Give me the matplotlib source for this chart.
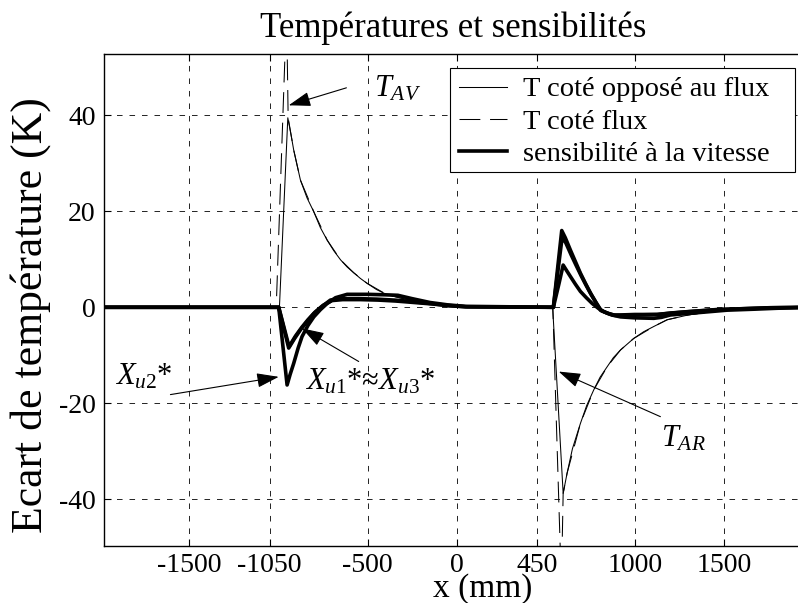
import matplotlib
matplotlib.use("Agg")
import matplotlib.pyplot as plt
from matplotlib.patches import Rectangle

plt.rcParams['font.family'] = ['Liberation Serif', 'DejaVu Serif']
plt.rcParams['mathtext.fontset'] = 'custom'
plt.rcParams['mathtext.rm'] = 'Liberation Serif'
plt.rcParams['mathtext.it'] = 'Liberation Serif:italic'
plt.rcParams['lines.scale_dashes'] = False

# ---- data ----
title = "Températures et sensibilités"
xlabel = "x (mm)"
ylabel = "Ecart de température (K)"
legend_labels = ["T coté opposé au flux", "T coté flux", "sensibilité à la vitesse"]
xticks = [-1500, -1050, -500, 0, 450, 1000, 1500]
yticks = [-40, -20, 0, 20, 40]

# T opposite side of flux (thin solid)
t_opp_x = [-1980, -995, -948, -930, -915, -877, -840, -802, -765, -727, -690, -652, -615, -578,
           -540, -503, -450, -390, -300, -203, -100, 0, 200, 539, 598, 620, 650, 695, 730, 770,
           805, 845, 880, 920, 994, 1050, 1107, 1182, 1300, 1450, 1600, 1980]
t_opp_y = [0, 0, 39.5, 36, 32.8, 26.5, 22.8, 19.9, 16.6, 14, 11.8, 9.9, 8.4, 7.2,
           6.0, 5.0, 3.7, 2.6, 1.8, 1.2, 0.6, 0.2, 0, 0, -38.8, -34.6, -29.5, -24.2, -20.5, -17.2,
           -14.6, -12.4, -10.5, -8.9, -6.5, -5.1, -4.0, -2.6, -1.6, -0.8, -0.3, 0]

# T flux side (thin dashed)
t_flux_x = [-1980, -1013, -955, -946, -930, -915, -877, -802, -727, -652, -578, -503, -390, -300,
            -203, -100, 0, 200, 540, 588, 598, 620, 695, 770, 845, 920, 994, 1107, 1182, 1300,
            1450, 1600, 1980]
t_flux_y = [0, 0, 62, 39.5, 36, 32.8, 26.5, 19.9, 14, 9.9, 7.2, 5.0, 2.6, 1.8,
            1.2, 0.6, 0.2, 0, 0, -58, -38.8, -34.6, -24.2, -17.2, -12.4, -8.9, -6.5, -4.0, -2.6, -1.6,
            -0.8, -0.3, 0]

# speed sensitivities (thick solid)
xu2_x = [-1980, -999, -952, -935, -915, -890, -868, -835, -802, -765, -727, -680, -615, -500,
         -400, -330, -250, -150, -50, 50, 543, 575, 598, 620, 639, 667, 695, 728, 761, 795,
         826, 870, 920, 1000, 1107, 1150, 1200, 1330, 1519, 1668, 1800, 1980]
xu2_y = [0, 0, -16.2, -14, -11.7, -8.5, -6.1, -3.8, -2.0, -0.5, 0.8, 2.0, 2.7, 2.7,
         2.6, 2.5, 1.8, 1.0, 0.5, 0.2, 0, 5.0, 8.8, 7.5, 6.4, 4.8, 3.3, 2.0, 0.8, -0.2,
         -0.9, -1.6, -2.0, -2.2, -2.3, -2.1, -1.6, -1.2, -0.6, -0.4, -0.2, 0]

xu1_x = [-1980, -999, -943, -910, -877, -840, -802, -755, -709, -650, -550, -450, -350, -250,
         -150, -50, 50, 543, 590, 610, 639, 667, 695, 723, 751, 779, 807, 845, 882, 920,
         1000, 1125, 1200, 1300, 1450, 1600, 1750, 1980]
xu1_y = [0, 0, -8.5, -6.5, -4.7, -3.0, -1.3, 0.2, 1.5, 1.8, 1.8, 1.7, 1.5, 1.2,
         0.8, 0.4, 0.1, 0, 16.0, 14.5, 11.9, 9.5, 7.1, 5.0, 3.0, 1.2, -0.6, -1.2, -1.6, -1.6,
         -1.5, -1.5, -1.2, -0.9, -0.5, -0.3, -0.1, 0]

xu3_x = [-1980, -999, -941, -905, -870, -835, -795, -750, -700, -640, -540, -440, -340, -240,
         -140, -40, 60, 543, 592, 612, 642, 670, 700, 728, 756, 784, 812, 850, 890, 930,
         1010, 1130, 1210, 1310, 1460, 1610, 1760, 1980]
xu3_y = [0, 0, -8.2, -6.0, -4.2, -2.6, -1.0, 0.4, 1.4, 1.6, 1.6, 1.5, 1.3, 1.0,
         0.7, 0.3, 0.1, 0, 14.5, 13.5, 11.0, 8.8, 6.5, 4.5, 2.6, 0.9, -0.7, -1.3, -1.7, -1.7,
         -1.6, -1.5, -1.2, -0.9, -0.5, -0.3, -0.1, 0]

# ---- figure ----
W, H = 798, 603
fig = plt.figure(figsize=(W / 100, H / 100), dpi=100)
ax = fig.add_axes([104 / W, 57.3 / H, 705.3 / W, 491.7 / H])
ax.set_xlim(-1980, 1980)
ax.set_ylim(-49.7, 52.8)

l1, = ax.plot(t_opp_x, t_opp_y, color='k', lw=0.75)
l2, = ax.plot(t_flux_x, t_flux_y, color='k', lw=0.75, linestyle=(0, (15, 7)))
l3, = ax.plot(xu1_x, xu1_y, color='k', lw=2.6, solid_joinstyle='round')
ax.plot(xu3_x, xu3_y, color='k', lw=2.6, solid_joinstyle='round')
ax.plot(xu2_x, xu2_y, color='k', lw=2.6, solid_joinstyle='round')

ax.set_xticks(xticks)
ax.set_yticks(yticks)
ax.set_xticklabels([str(v) for v in xticks])
ax.set_yticklabels([str(v) for v in yticks])
ax.tick_params(direction='in', length=5, width=0.8, top=True, right=True, labelsize=20)
ax.tick_params(axis='x', pad=5)
ax.tick_params(axis='y', pad=6)
ax.grid(True, color='k', linestyle=(0, (4, 5)), linewidth=0.6)
for s in ax.spines.values():
    s.set_linewidth(1.0)

# legend box (drawn as a plain rectangle, entries placed inside)
box = Rectangle((450 / W, 1 - 172 / H), 345 / W, 104 / H, transform=fig.transFigure,
                facecolor='white', edgecolor='k', linewidth=0.8, zorder=4)
ax.add_artist(box)
box.set_clip_on(False)
leg = ax.legend([l1, l2, l3], legend_labels, loc='upper left',
                bbox_to_anchor=(450 / W, 1 - 68 / H), bbox_transform=fig.transFigure,
                fontsize=20.5, frameon=False,
                borderpad=0.3, labelspacing=0.22, handlelength=1.7, handletextpad=0.55,
                borderaxespad=0)
leg.set_zorder(5)

fig.text(453 / W, 1 - 37 / H, title, ha='center', va='baseline', fontsize=25)
fig.text(483 / W, 6 / H, xlabel, ha='center', va='baseline', fontsize=24)
fig.text(31 / W, 1 - 315 / H, ylabel, ha='center', va='center', rotation=90, fontsize=31.5)

arrow = dict(arrowstyle='-|>,head_length=0.85,head_width=0.28', color='k', lw=0.8,
             mutation_scale=16, shrinkA=0, shrinkB=0)
ax.annotate('', xy=(-943, 42.1), xytext=(-619, 45.75), arrowprops=arrow)
ax.annotate('', xy=(573, -13.4), xytext=(1144, -22.8), arrowprops=arrow)
ax.annotate('', xy=(-999, -14.5), xytext=(-1607, -18.2), arrowprops=arrow)
ax.annotate('', xy=(-868, -4.4), xytext=(-550, -11.3), arrowprops=arrow)

ax.text(-465, 43.9, r'$T_{AV}$', fontsize=22, va='baseline', ha='left')
ax.text(1150, -29.1, r'$T_{AR}$', fontsize=22, va='baseline', ha='left')
ax.text(-1920, -16.2, r'$X_{\mathit{u2}}$*', fontsize=22, va='baseline', ha='left')
ax.text(-852, -17.2, r'$X_{\mathit{u1}}$*≈$X_{\mathit{u3}}$*', fontsize=22, va='baseline', ha='left')

fig.savefig('out.png', dpi=100)
